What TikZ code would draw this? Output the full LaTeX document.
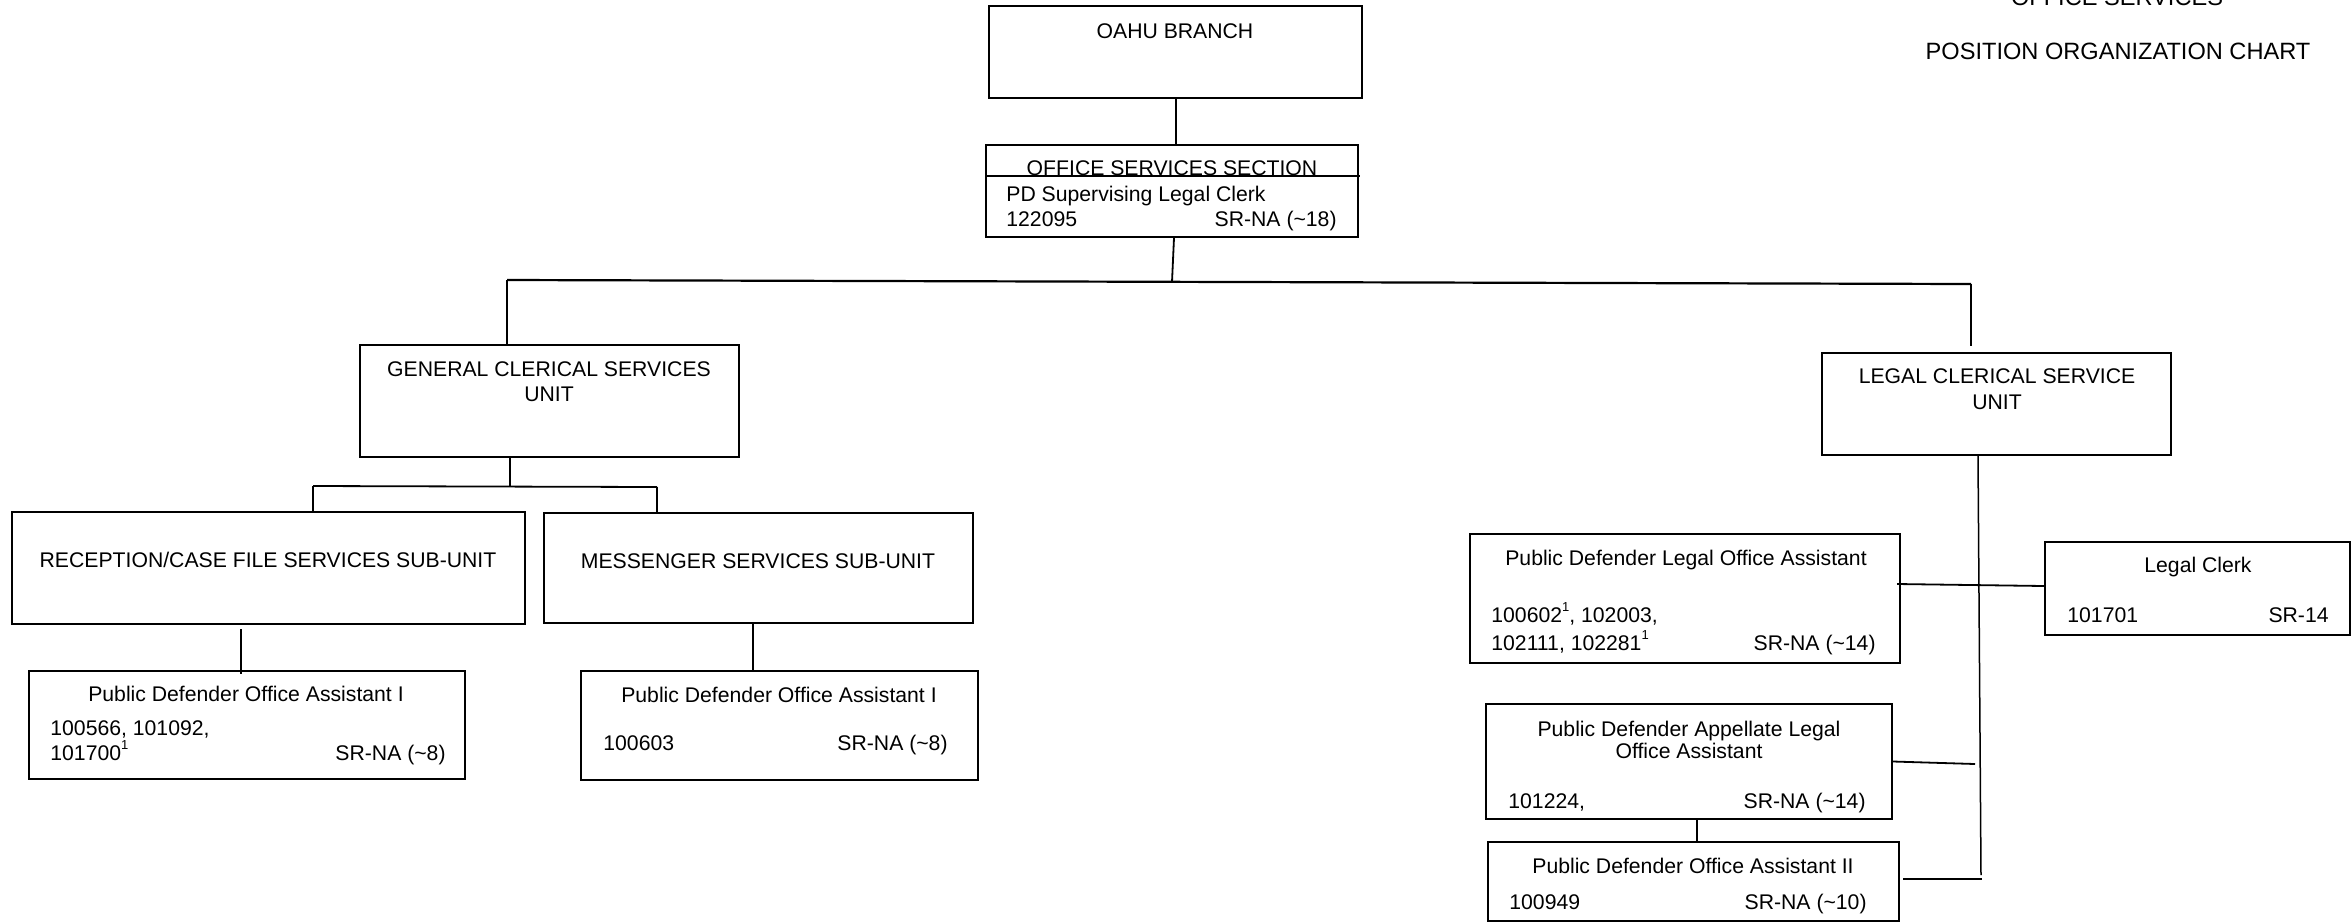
\documentclass[tikz,border=0pt]{standalone}
\usepackage{fontspec}
\setmainfont{Liberation Sans}
\usetikzlibrary{fit}
\newcommand\fsz{\fontsize{10.6}{12}\selectfont}
\newcommand\ftz{\fontsize{11.8}{14}\selectfont}
\newcommand\supone{\raisebox{0.9ex}{\fontsize{6.5}{7}\selectfont 1}}
\begin{document}
\begin{tikzpicture}[x=0.5pt,y=-0.5pt,
  box/.style={draw,line width=1pt,inner sep=0pt},
  txt/.style={inner sep=0pt,font=\fsz,anchor=base},
  txl/.style={inner sep=0pt,font=\fsz,anchor=base west},
  txr/.style={inner sep=0pt,font=\fsz,anchor=base east},
  ttl/.style={inner sep=0pt,font=\ftz,anchor=base},
  conn/.style={line width=0.9pt},
  thin/.style={line width=0.75pt}]
\useasboundingbox (0,0) rectangle (2352,923);
% boxes
\node[box,fit={(989,6) (1362,98)}] (oahu) {};
\node[box,fit={(986,145) (1358,237)}] (oss) {};
\node[box,fit={(360,345) (739,457)}] (gcs) {};
\node[box,fit={(1822,353) (2171,455)}] (lcs) {};
\node[box,fit={(12,512) (525,624)}] (rcf) {};
\node[box,fit={(544,513) (973,623)}] (ms) {};
\node[box,fit={(29,671) (465,779)}] (pa1) {};
\node[box,fit={(581,671) (978,780)}] (pb1) {};
\node[box,fit={(1470,534) (1900,663)}] (plo) {};
\node[box,fit={(2045,542) (2350,635)}] (lc) {};
\node[box,fit={(1486,704) (1892,819)}] (pal) {};
\node[box,fit={(1488,842) (1899,921)}] (p2) {};
\draw[line width=1pt] (oss.west |- 0,176) -- (1360,176);
% texts
\node[ttl] (title1) at (2117,5) {OFFICE SERVICES};
\node[ttl] (title2) at (2118,59) {POSITION ORGANIZATION CHART};
\node[txt] (oahuT) at (1175,38) {OAHU BRANCH};
\node[txt] (ossT) at (1172,175) {OFFICE SERVICES SECTION};
\node[txl] (ossA) at (1006,201) {PD Supervising Legal Clerk};
\node[txl] (ossB) at (1006,226) {122095};
\node[txr] (ossC) at (1337,226) {SR-NA (\textasciitilde18)};
\node[txt] (gcsT1) at (549,376) {GENERAL CLERICAL SERVICES};
\node[txt] (gcsT2) at (549,401) {UNIT};
\node[txt] (rcfT) at (268,567) {RECEPTION/CASE FILE SERVICES SUB-UNIT};
\node[txt] (msT) at (758,568) {MESSENGER SERVICES SUB-UNIT};
\node[txt] (pa1T) at (246,701) {Public Defender Office Assistant I};
\node[txl] (pa1A) at (50,735) {100566, 101092,};
\node[txl] (pa1B) at (50,760) {101700\supone};
\node[txr] (pa1C) at (446,760) {SR-NA (\textasciitilde8)};
\node[txt] (pb1T) at (779,702) {Public Defender Office Assistant I};
\node[txl] (pb1A) at (603,750) {100603};
\node[txr] (pb1C) at (948,750) {SR-NA (\textasciitilde8)};
\node[txt] (lcsT1) at (1997,383) {LEGAL CLERICAL SERVICE};
\node[txt] (lcsT2) at (1997,409) {UNIT};
\node[txt] (ploT) at (1686,565) {Public Defender Legal Office Assistant};
\node[txl] (ploA) at (1491,622) {100602\supone, 102003,};
\node[txl] (ploB) at (1491,650) {102111, 102281\supone};
\node[txr] (ploC) at (1876,650) {SR-NA (\textasciitilde14)};
\node[txt] (lcT) at (2198,572) {Legal Clerk};
\node[txl] (lcA) at (2067,622) {101701};
\node[txr] (lcC) at (2329,622) {SR-14};
\node[txt] (palT1) at (1689,736) {Public Defender Appellate Legal};
\node[txt] (palT2) at (1689,758) {Office Assistant};
\node[txl] (palA) at (1508,808) {101224,};
\node[txr] (palC) at (1866,808) {SR-NA (\textasciitilde14)};
\node[txt] (p2T) at (1693,873) {Public Defender Office Assistant II};
\node[txl] (p2A) at (1509,909) {100949};
\node[txr] (p2C) at (1867,909) {SR-NA (\textasciitilde10)};
% connectors
\coordinate (ox) at (1176,0);
\coordinate (busC) at (1172,282);
\coordinate (busL) at (507,280);
\coordinate (busR) at (1971,284);
\draw[conn] (oahu.south -| ox) -- (oss.north -| ox);
\draw[conn] ([xshift=1pt]oss.south) -- (busC);
\draw[line width=1.1pt] (busL) -- (busR);
\draw[conn] (busL) -- (busL |- gcs.north);
\draw[thin] (busR) -- ([yshift=3pt]busR |- lcs.north);
\coordinate (gj) at (510,486);
\coordinate (gjL) at (313,486);
\coordinate (gjR) at (657,487);
\draw[conn] (gj |- gcs.south) -- (gj);
\draw[conn] (gjL) -- (gjR);
\draw[conn] (gjL) -- (gjL |- rcf.north);
\draw[conn] (gjR) -- (gjR |- ms.north);
\coordinate (rx) at (241,0);
\draw[conn] ([yshift=-2pt]rcf.south -| rx) -- ([yshift=-2pt]pa1.north -| rx);
\coordinate (mx) at (753,0);
\draw[conn] (ms.south -| mx) -- (pb1.north -| mx);
\coordinate (lvt) at (1978,455);
\coordinate (lv) at (1981,875);
\draw[thin] (lvt |- lcs.south) -- (lv);
\draw[conn] ([shift={(-2pt,7.25pt)}]plo.east) -- ([yshift=1.25pt]lc.west);
\coordinate (av) at (1975,764);
\draw[conn] (pal.east) -- (av);
\draw[conn] ([xshift=4pt]pal.south) -- ([xshift=1.75pt]p2.north);
\coordinate (bv) at (1982,879);
\draw[conn] ([shift={(1.5pt,1.25pt)}]p2.east) -- (bv);
\end{tikzpicture}
\end{document}
